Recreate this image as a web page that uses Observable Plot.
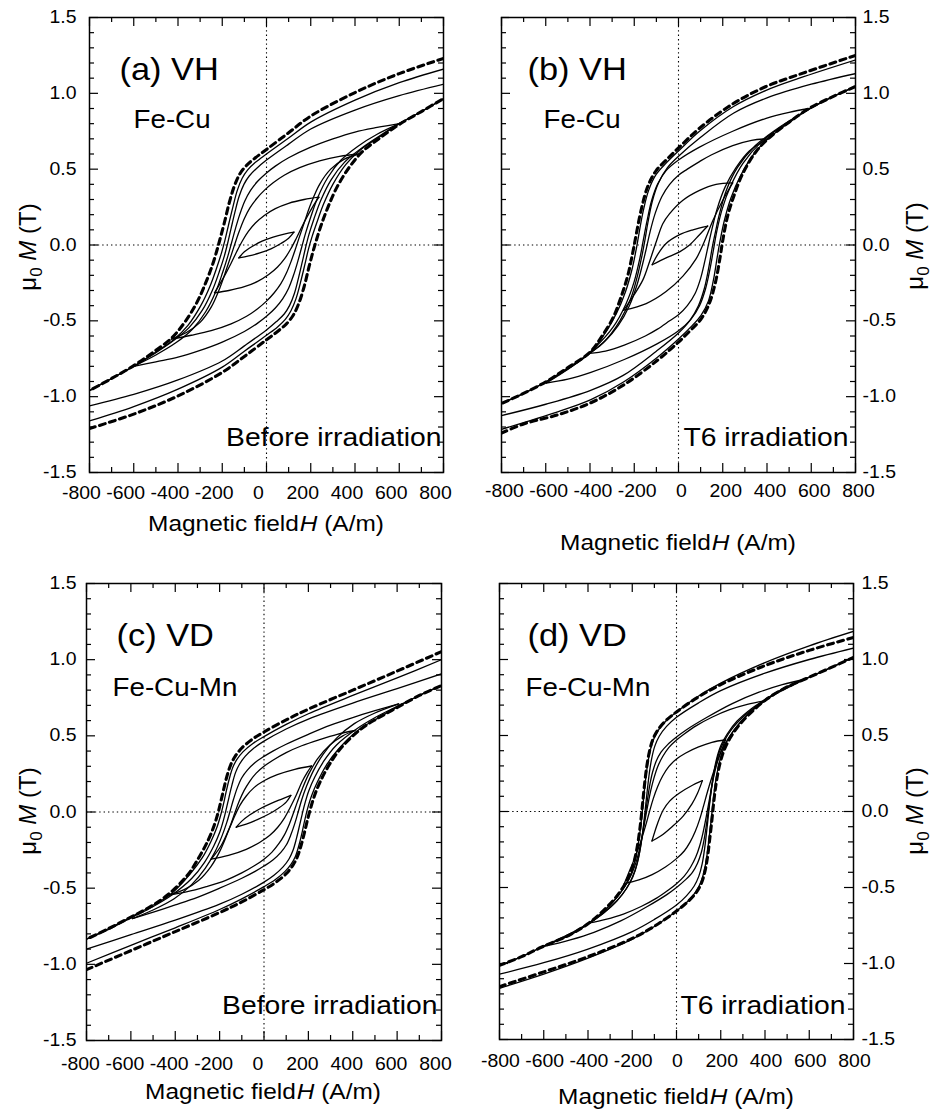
<!DOCTYPE html>
<html><head><meta charset="utf-8">
<script src="https://cdn.jsdelivr.net/npm/d3@7"></script>
<script src="https://cdn.jsdelivr.net/npm/@observablehq/plot@0.6"></script>
<style>
body{margin:0;background:#fff;}
#root{position:relative;width:935px;height:1110px;overflow:hidden;background:#fff;font-family:"Liberation Sans",Arial,sans-serif;}
</style></head><body><div id="root"></div>
<script>
// ---------- tick values / labels ----------
const xTicks = [-800,-600,-400,-200,0,200,400,600,800];
const xMinor = [-700,-500,-300,-100,100,300,500,700];
const yTicks = [-1.5,-1.0,-0.5,0.0,0.5,1.0,1.5];
const yMinor = [-1.4,-1.3,-1.2,-1.1,-0.9,-0.8,-0.7,-0.6,-0.4,-0.3,-0.2,-0.1,0.1,0.2,0.3,0.4,0.6,0.7,0.8,0.9,1.1,1.2,1.3,1.4];
const panelTags = ["(a) VH","(b) VH","(c) VD","(d) VD"];
const alloys = ["Fe-Cu","Fe-Cu","Fe-Cu-Mn","Fe-Cu-Mn"];
const states = ["Before irradiation","T6 irradiation","Before irradiation","T6 irradiation"];

// ---------- panel (a): [H (A/m), mu0M (T)] ----------
const a_D_desc = [[800,1.23],[600,1.13],[400,1.005],[200,0.85],[100,0.74],[0,0.63],[-50,0.575],[-90,0.525],[-120,0.47],[-145,0.39],[-168,0.28],[-190,0.15],[-208,0.05],[-223,-0.03],[-245,-0.135],[-275,-0.25],[-315,-0.38],[-370,-0.51],[-430,-0.615],[-510,-0.705],[-600,-0.795],[-700,-0.88],[-800,-0.96]];
const a_D_asc = [[-800,-1.21],[-600,-1.115],[-400,-0.995],[-200,-0.84],[-100,-0.735],[0,-0.625],[50,-0.57],[90,-0.52],[120,-0.465],[146,-0.385],[170,-0.275],[192,-0.145],[210,-0.045],[226,0.035],[248,0.135],[278,0.25],[318,0.38],[373,0.51],[433,0.615],[512,0.705],[600,0.795],[700,0.88],[800,0.965]];
const a_L1_desc = [[800,1.16],[600,1.07],[400,0.955],[200,0.81],[100,0.705],[0,0.60],[-50,0.545],[-85,0.495],[-110,0.44],[-132,0.36],[-152,0.25],[-172,0.13],[-188,0.03],[-203,-0.05],[-225,-0.15],[-255,-0.27],[-297,-0.40],[-355,-0.53],[-420,-0.625],[-505,-0.71],[-600,-0.798],[-700,-0.88],[-800,-0.96]];
const a_L1_asc = [[-800,-1.16],[-600,-1.065],[-400,-0.95],[-200,-0.805],[-100,-0.70],[0,-0.595],[50,-0.54],[85,-0.49],[110,-0.435],[133,-0.355],[154,-0.245],[174,-0.125],[190,-0.025],[206,0.055],[228,0.15],[258,0.27],[300,0.40],[358,0.53],[423,0.625],[508,0.71],[600,0.80],[700,0.88],[800,0.965]];
const a_L2_desc = [[800,1.06],[600,0.985],[400,0.89],[200,0.765],[100,0.665],[0,0.56],[-45,0.505],[-78,0.455],[-102,0.40],[-124,0.32],[-143,0.215],[-160,0.11],[-175,0.015],[-190,-0.07],[-212,-0.17],[-245,-0.30],[-290,-0.43],[-350,-0.545],[-420,-0.63],[-505,-0.715],[-600,-0.80],[-700,-0.88],[-800,-0.96]];
const a_L2_asc = [[-800,-1.06],[-600,-0.985],[-400,-0.89],[-200,-0.765],[-100,-0.665],[0,-0.56],[45,-0.505],[80,-0.455],[104,-0.40],[126,-0.32],[145,-0.215],[162,-0.11],[177,-0.015],[192,0.07],[214,0.17],[247,0.30],[292,0.43],[352,0.545],[422,0.63],[507,0.715],[600,0.80],[700,0.88],[800,0.965]];
const a_L3_desc = [[600,0.80],[500,0.775],[400,0.745],[300,0.70],[200,0.645],[100,0.575],[40,0.52],[0,0.475],[-40,0.42],[-72,0.36],[-98,0.29],[-120,0.205],[-140,0.11],[-157,0.02],[-175,-0.075],[-198,-0.18],[-230,-0.31],[-275,-0.44],[-335,-0.555],[-410,-0.645],[-500,-0.725],[-600,-0.80]];
const a_L3_asc = [[-600,-0.80],[-500,-0.77],[-400,-0.74],[-300,-0.695],[-200,-0.64],[-100,-0.57],[-40,-0.515],[0,-0.47],[40,-0.415],[73,-0.355],[100,-0.285],[122,-0.20],[142,-0.105],[159,-0.015],[177,0.08],[200,0.185],[232,0.315],[277,0.445],[337,0.56],[412,0.65],[500,0.73],[600,0.80]];
const a_L4_desc = [[420,0.60],[330,0.585],[240,0.555],[150,0.51],[80,0.46],[30,0.41],[-10,0.36],[-45,0.305],[-75,0.245],[-100,0.175],[-122,0.095],[-140,0.02],[-158,-0.06],[-180,-0.155],[-210,-0.28],[-250,-0.41],[-300,-0.51],[-360,-0.575],[-430,-0.62]];
const a_L4_asc = [[-430,-0.62],[-340,-0.595],[-250,-0.565],[-160,-0.52],[-90,-0.47],[-40,-0.42],[0,-0.37],[35,-0.315],[65,-0.255],[90,-0.185],[112,-0.105],[130,-0.03],[148,0.05],[170,0.145],[200,0.27],[240,0.40],[290,0.50],[350,0.565],[420,0.60]];
const a_L5_desc = [[237,0.315],[170,0.30],[100,0.275],[40,0.24],[-10,0.195],[-50,0.145],[-82,0.09],[-110,0.025],[-135,-0.045],[-160,-0.12],[-185,-0.19],[-210,-0.255],[-235,-0.315]];
const a_L5_asc = [[-235,-0.315],[-170,-0.30],[-100,-0.275],[-40,-0.24],[10,-0.195],[50,-0.145],[82,-0.09],[110,-0.025],[135,0.045],[160,0.12],[185,0.19],[210,0.255],[237,0.315]];
const a_L6_desc = [[124,0.085],[80,0.072],[30,0.052],[-20,0.025],[-65,-0.01],[-100,-0.045],[-125,-0.085]];
const a_L6_asc = [[-125,-0.085],[-80,-0.072],[-30,-0.052],[20,-0.025],[65,0.01],[100,0.045],[124,0.085]];

// ---------- panel (b) ----------
const b_D_desc = [[800,1.25],[546,1.125],[396,1.045],[245,0.93],[95,0.77],[0,0.64],[-56,0.56],[-101,0.49],[-138,0.39],[-169,0.23],[-191,0.07],[-206,-0.045],[-229,-0.20],[-259,-0.34],[-296,-0.48],[-357,-0.625],[-402,-0.71],[-507,-0.815],[-597,-0.90],[-703,-0.98],[-800,-1.045]];
const b_D_asc = [[-800,-1.24],[-700,-1.18],[-546,-1.12],[-396,-1.04],[-245,-0.92],[-95,-0.76],[0,-0.64],[56,-0.56],[101,-0.49],[138,-0.39],[168,-0.24],[188,-0.08],[200,0.03],[222,0.19],[252,0.33],[290,0.47],[350,0.615],[405,0.70],[500,0.81],[590,0.90],[700,0.98],[800,1.045]];
const b_L1_desc = [[800,1.22],[546,1.10],[396,1.02],[245,0.91],[95,0.75],[0,0.62],[-56,0.54],[-101,0.465],[-135,0.36],[-160,0.22],[-178,0.08],[-190,-0.02],[-210,-0.16],[-240,-0.31],[-280,-0.45],[-345,-0.61],[-402,-0.71],[-505,-0.815],[-597,-0.90],[-703,-0.98],[-800,-1.045]];
const b_L1_asc = [[-800,-1.215],[-546,-1.10],[-396,-1.02],[-245,-0.90],[-95,-0.74],[0,-0.62],[56,-0.54],[101,-0.465],[135,-0.37],[158,-0.23],[175,-0.08],[187,0.02],[207,0.16],[237,0.31],[278,0.45],[343,0.605],[405,0.70],[503,0.81],[595,0.90],[700,0.98],[800,1.045]];
const b_L2_desc = [[800,1.13],[600,1.06],[400,0.97],[250,0.87],[100,0.71],[0,0.585],[-50,0.51],[-90,0.41],[-118,0.29],[-138,0.15],[-152,0.03],[-165,-0.07],[-185,-0.20],[-215,-0.35],[-265,-0.50],[-340,-0.645],[-402,-0.715],[-440,-0.76],[-560,-0.87],[-680,-0.965],[-800,-1.045]];
const b_L2_asc = [[-800,-1.125],[-600,-1.05],[-400,-0.96],[-250,-0.86],[-100,-0.70],[0,-0.58],[50,-0.50],[90,-0.40],[118,-0.28],[138,-0.14],[152,-0.02],[166,0.08],[186,0.21],[216,0.36],[266,0.51],[340,0.645],[440,0.76],[560,0.87],[680,0.965],[800,1.045]];
const b_L3_desc = [[591,0.90],[500,0.875],[396,0.835],[245,0.75],[95,0.645],[0,0.56],[-56,0.49],[-95,0.40],[-122,0.29],[-142,0.16],[-158,0.04],[-175,-0.09],[-200,-0.24],[-238,-0.39],[-295,-0.54],[-380,-0.68],[-480,-0.80],[-597,-0.91]];
const b_L3_asc = [[-597,-0.91],[-500,-0.885],[-396,-0.84],[-245,-0.755],[-95,-0.65],[0,-0.565],[56,-0.49],[95,-0.40],[122,-0.29],[142,-0.16],[157,-0.04],[173,0.09],[198,0.24],[236,0.39],[292,0.54],[375,0.68],[475,0.79],[591,0.90]];
const b_L4_desc = [[403,0.70],[330,0.69],[245,0.655],[150,0.595],[95,0.55],[40,0.50],[0,0.46],[-40,0.40],[-75,0.32],[-105,0.21],[-128,0.09],[-145,-0.02],[-163,-0.13],[-187,-0.26],[-222,-0.40],[-272,-0.53],[-330,-0.63],[-402,-0.715]];
const b_L4_asc = [[-402,-0.715],[-330,-0.70],[-245,-0.66],[-150,-0.60],[-95,-0.555],[-40,-0.50],[0,-0.46],[40,-0.40],[75,-0.32],[100,-0.22],[120,-0.10],[135,0.0],[152,0.11],[175,0.24],[210,0.38],[260,0.51],[320,0.62],[403,0.70]];
const b_L5_desc = [[245,0.41],[170,0.40],[95,0.36],[20,0.295],[-41,0.205],[-71,0.14],[-101,0.02],[-131,-0.11],[-161,-0.23],[-206,-0.34],[-248,-0.43]];
const b_L5_asc = [[-248,-0.43],[-146,-0.386],[-56,-0.307],[20,-0.205],[80,-0.09],[117,0.023],[155,0.16],[200,0.295],[245,0.41]];
const b_L6_desc = [[132,0.125],[65,0.10],[5,0.068],[-56,0.01],[-93,-0.06],[-119,-0.13]];
const b_L6_asc = [[-119,-0.13],[-56,-0.085],[5,-0.045],[50,0.0],[95,0.068],[132,0.125]];

// ---------- panel (c) ----------
const c_D_desc = [[800,1.053],[600,0.925],[400,0.80],[200,0.675],[100,0.605],[0,0.525],[-50,0.48],[-100,0.42],[-130,0.365],[-150,0.31],[-168,0.23],[-183,0.14],[-196,0.06],[-208,-0.01],[-225,-0.09],[-250,-0.18],[-290,-0.29],[-345,-0.415],[-435,-0.545],[-510,-0.62],[-600,-0.69],[-700,-0.765],[-800,-0.835]];
const c_D_asc = [[-800,-1.035],[-600,-0.91],[-400,-0.785],[-200,-0.66],[-100,-0.59],[0,-0.51],[50,-0.465],[100,-0.405],[130,-0.35],[150,-0.295],[168,-0.215],[184,-0.125],[197,-0.045],[210,0.025],[227,0.105],[252,0.195],[292,0.305],[347,0.42],[437,0.545],[512,0.615],[605,0.69],[700,0.765],[800,0.83]];
const c_L1_desc = [[800,1.0],[600,0.88],[400,0.765],[200,0.645],[100,0.575],[0,0.495],[-50,0.45],[-95,0.395],[-122,0.345],[-140,0.295],[-157,0.215],[-171,0.13],[-183,0.05],[-195,-0.02],[-212,-0.10],[-238,-0.19],[-278,-0.30],[-335,-0.41],[-425,-0.545],[-510,-0.62],[-600,-0.69],[-700,-0.765],[-800,-0.835]];
const c_L1_asc = [[-800,-0.993],[-600,-0.875],[-400,-0.76],[-200,-0.64],[-100,-0.57],[0,-0.49],[50,-0.445],[95,-0.39],[123,-0.34],[142,-0.29],[159,-0.21],[173,-0.125],[185,-0.045],[197,0.025],[214,0.105],[240,0.195],[280,0.305],[337,0.415],[427,0.54],[512,0.615],[602,0.69],[700,0.765],[800,0.83]];
const c_L2_desc = [[800,0.907],[600,0.81],[400,0.715],[200,0.61],[100,0.545],[0,0.465],[-45,0.42],[-85,0.365],[-110,0.315],[-128,0.26],[-144,0.18],[-158,0.095],[-170,0.02],[-183,-0.055],[-200,-0.135],[-227,-0.225],[-268,-0.33],[-325,-0.435],[-415,-0.545],[-505,-0.625],[-600,-0.695],[-700,-0.77],[-800,-0.835]];
const c_L2_asc = [[-800,-0.90],[-600,-0.805],[-400,-0.71],[-200,-0.605],[-100,-0.54],[0,-0.46],[45,-0.415],[86,-0.36],[112,-0.31],[130,-0.255],[146,-0.175],[160,-0.09],[172,-0.015],[185,0.06],[202,0.14],[229,0.23],[270,0.335],[327,0.44],[417,0.545],[507,0.625],[602,0.695],[700,0.765],[800,0.83]];
const c_L3_desc = [[607,0.71],[500,0.665],[400,0.62],[300,0.57],[200,0.51],[100,0.445],[40,0.40],[0,0.365],[-40,0.325],[-75,0.275],[-100,0.225],[-120,0.16],[-137,0.085],[-152,0.01],[-168,-0.07],[-190,-0.16],[-222,-0.265],[-265,-0.37],[-325,-0.475],[-405,-0.57],[-495,-0.64],[-593,-0.70]];
const c_L3_asc = [[-593,-0.70],[-495,-0.655],[-400,-0.61],[-300,-0.56],[-200,-0.50],[-100,-0.435],[-40,-0.39],[0,-0.355],[40,-0.315],[76,-0.265],[101,-0.215],[121,-0.15],[139,-0.075],[154,0.0],[170,0.08],[192,0.17],[224,0.275],[267,0.38],[327,0.485],[407,0.58],[500,0.65],[607,0.71]];
const c_L4_desc = [[410,0.535],[330,0.51],[250,0.475],[170,0.435],[100,0.39],[40,0.34],[0,0.30],[-35,0.255],[-65,0.20],[-90,0.14],[-112,0.07],[-130,0.0],[-148,-0.075],[-170,-0.16],[-200,-0.26],[-240,-0.36],[-295,-0.45],[-360,-0.51],[-435,-0.547]];
const c_L4_asc = [[-435,-0.547],[-350,-0.525],[-260,-0.49],[-175,-0.45],[-100,-0.40],[-40,-0.35],[0,-0.31],[35,-0.265],[66,-0.21],[92,-0.15],[114,-0.08],[132,-0.01],[150,0.065],[172,0.15],[202,0.25],[242,0.35],[297,0.44],[355,0.50],[410,0.535]];
const c_L5_desc = [[214,0.302],[139,0.28],[60,0.245],[0,0.205],[-45,0.16],[-80,0.105],[-108,0.045],[-133,-0.03],[-160,-0.12],[-195,-0.225],[-238,-0.31]];
const c_L5_asc = [[-238,-0.31],[-160,-0.285],[-80,-0.245],[-20,-0.20],[25,-0.155],[62,-0.10],[92,-0.04],[118,0.03],[145,0.11],[172,0.20],[195,0.26],[214,0.302]];
const c_L6_desc = [[121,0.109],[80,0.085],[30,0.055],[-20,0.02],[-65,-0.02],[-100,-0.06],[-125,-0.10]];
const c_L6_asc = [[-125,-0.10],[-80,-0.08],[-30,-0.05],[20,-0.015],[65,0.025],[100,0.065],[121,0.109]];

// ---------- panel (d) ----------
const d_D_desc = [[800,1.145],[600,1.06],[400,0.96],[200,0.835],[100,0.755],[0,0.655],[-50,0.595],[-85,0.535],[-108,0.47],[-123,0.39],[-135,0.29],[-145,0.17],[-152,0.07],[-159,-0.03],[-166,-0.12],[-176,-0.22],[-190,-0.32],[-210,-0.41],[-236,-0.485],[-280,-0.575],[-340,-0.665],[-397,-0.735],[-480,-0.81],[-611,-0.893],[-700,-0.955],[-800,-1.012]];
const d_D_asc = [[-800,-1.152],[-600,-1.055],[-400,-0.955],[-200,-0.835],[-100,-0.755],[0,-0.655],[50,-0.595],[88,-0.535],[113,-0.47],[129,-0.39],[141,-0.29],[151,-0.17],[159,-0.07],[166,0.03],[173,0.12],[183,0.22],[197,0.32],[217,0.41],[243,0.485],[287,0.575],[347,0.665],[404,0.735],[487,0.81],[590,0.877],[700,0.948],[800,1.014]];
const d_L1_desc = [[800,1.185],[600,1.09],[400,0.98],[200,0.845],[100,0.76],[0,0.655],[-50,0.592],[-84,0.53],[-106,0.465],[-121,0.385],[-133,0.285],[-143,0.165],[-150,0.065],[-157,-0.035],[-164,-0.125],[-174,-0.225],[-188,-0.325],[-207,-0.415],[-233,-0.49],[-277,-0.578],[-338,-0.667],[-397,-0.737],[-480,-0.812],[-611,-0.893],[-700,-0.955],[-800,-1.012]];
const d_L1_asc = [[-800,-1.163],[-600,-1.07],[-400,-0.965],[-200,-0.84],[-100,-0.757],[0,-0.655],[50,-0.592],[86,-0.53],[110,-0.465],[126,-0.385],[138,-0.285],[148,-0.165],[156,-0.065],[163,0.035],[170,0.125],[180,0.225],[194,0.325],[213,0.415],[239,0.49],[283,0.578],[344,0.667],[404,0.737],[487,0.812],[590,0.877],[700,0.948],[800,1.014]];
const d_L2_desc = [[800,1.075],[600,1.0],[400,0.91],[200,0.795],[100,0.715],[0,0.62],[-45,0.56],[-78,0.495],[-98,0.43],[-112,0.35],[-123,0.25],[-132,0.14],[-139,0.045],[-146,-0.05],[-153,-0.14],[-163,-0.24],[-177,-0.34],[-197,-0.43],[-225,-0.505],[-270,-0.59],[-333,-0.672],[-397,-0.738],[-480,-0.812],[-611,-0.893],[-700,-0.955],[-800,-1.012]];
const d_L2_asc = [[-800,-1.07],[-600,-0.995],[-400,-0.905],[-200,-0.79],[-100,-0.71],[0,-0.615],[45,-0.555],[80,-0.49],[101,-0.425],[116,-0.345],[127,-0.245],[136,-0.135],[143,-0.04],[150,0.055],[157,0.145],[167,0.245],[181,0.345],[201,0.435],[229,0.51],[274,0.595],[337,0.675],[404,0.74],[487,0.812],[590,0.877],[700,0.948],[800,1.014]];
const d_L3_desc = [[583,0.87],[478,0.835],[373,0.785],[252,0.71],[132,0.615],[42,0.535],[0,0.49],[-40,0.44],[-70,0.39],[-92,0.33],[-108,0.26],[-120,0.18],[-130,0.09],[-138,0.01],[-147,-0.08],[-157,-0.18],[-170,-0.29],[-188,-0.39],[-212,-0.47],[-245,-0.545],[-295,-0.625],[-360,-0.70],[-450,-0.78],[-540,-0.845],[-611,-0.893]];
const d_L3_asc = [[-611,-0.893],[-480,-0.845],[-373,-0.795],[-252,-0.72],[-132,-0.625],[-42,-0.545],[0,-0.50],[40,-0.45],[72,-0.40],[95,-0.34],[112,-0.27],[124,-0.19],[134,-0.10],[142,-0.015],[151,0.075],[161,0.175],[174,0.285],[192,0.385],[216,0.465],[249,0.54],[299,0.62],[364,0.695],[450,0.775],[525,0.83],[583,0.87]];
const d_L4_desc = [[403,0.73],[320,0.705],[240,0.67],[160,0.62],[90,0.565],[35,0.51],[0,0.47],[-35,0.42],[-63,0.36],[-85,0.295],[-102,0.22],[-116,0.14],[-128,0.055],[-139,-0.03],[-150,-0.12],[-163,-0.22],[-180,-0.32],[-202,-0.41],[-232,-0.49],[-275,-0.575],[-330,-0.66],[-397,-0.735]];
const d_L4_asc = [[-397,-0.735],[-320,-0.71],[-240,-0.675],[-160,-0.625],[-90,-0.57],[-35,-0.515],[0,-0.475],[35,-0.425],[64,-0.365],[87,-0.30],[105,-0.225],[119,-0.145],[131,-0.06],[142,0.025],[153,0.115],[166,0.215],[183,0.315],[205,0.405],[236,0.485],[279,0.57],[334,0.655],[403,0.73]];
const d_L5_desc = [[222,0.472],[160,0.455],[100,0.425],[42,0.385],[0,0.345],[-35,0.295],[-62,0.235],[-85,0.165],[-105,0.085],[-122,0.0],[-140,-0.095],[-162,-0.20],[-190,-0.31],[-215,-0.40],[-236,-0.474]];
const d_L5_asc = [[-236,-0.474],[-170,-0.45],[-110,-0.415],[-50,-0.365],[0,-0.31],[35,-0.26],[62,-0.20],[85,-0.13],[105,-0.05],[122,0.035],[140,0.13],[162,0.235],[185,0.335],[205,0.41],[222,0.472]];
const d_L6_desc = [[117,0.203],[72,0.173],[12,0.12],[-30,0.07],[-60,0.01],[-86,-0.08],[-111,-0.194]];
const d_L6_asc = [[-111,-0.194],[-70,-0.16],[-20,-0.10],[30,-0.03],[70,0.05],[95,0.12],[117,0.203]];

// ---------- assemble ----------
const loops = {
  a: [[a_L1_desc,a_L1_asc,false],[a_L2_desc,a_L2_asc,false],[a_L3_desc,a_L3_asc,false],[a_L4_desc,a_L4_asc,false],[a_L5_desc,a_L5_asc,false],[a_L6_desc,a_L6_asc,false],[a_D_desc,a_D_asc,true]],
  b: [[b_L1_desc,b_L1_asc,false],[b_L2_desc,b_L2_asc,false],[b_L3_desc,b_L3_asc,false],[b_L4_desc,b_L4_asc,false],[b_L5_desc,b_L5_asc,false],[b_L6_desc,b_L6_asc,false],[b_D_desc,b_D_asc,true]],
  c: [[c_L1_desc,c_L1_asc,false],[c_L2_desc,c_L2_asc,false],[c_L3_desc,c_L3_asc,false],[c_L4_desc,c_L4_asc,false],[c_L5_desc,c_L5_asc,false],[c_L6_desc,c_L6_asc,false],[c_D_desc,c_D_asc,true]],
  d: [[d_L1_desc,d_L1_asc,false],[d_L2_desc,d_L2_asc,false],[d_L3_desc,d_L3_asc,false],[d_L4_desc,d_L4_asc,false],[d_L5_desc,d_L5_asc,false],[d_L6_desc,d_L6_asc,false],[d_D_desc,d_D_asc,true]]
};

const layout = [
  {key:"a", left:0,   top:0,   width:470, height:555, mL:89, mR:27, mT:17, mB:83, yAnchor:"left",  yPad:13, xPad:14, xDx:-8, tagDx:30, alloyDx:44, alloyDy:93, stateDx:-2, stateDy:-27},
  {key:"b", left:470, top:0,   width:465, height:555, mL:31, mR:80, mT:17, mB:83, yAnchor:"right", yPad:7,  xPad:12, xDx:3,  tagDx:26, alloyDx:42, alloyDy:93, stateDx:-7, stateDy:-27},
  {key:"c", left:0,   top:555, width:470, height:555, mL:86, mR:29, mT:28, mB:70, yAnchor:"left",  yPad:10, xPad:17, xDx:-6, tagDx:30, alloyDx:26, alloyDy:95, stateDx:-4, stateDy:-27},
  {key:"d", left:470, top:555, width:465, height:555, mL:29, mR:82, mT:28, mB:71, yAnchor:"right", yPad:8,  xPad:15, xDx:1,  tagDx:28, alloyDx:26, alloyDy:95, stateDx:-8, stateDy:-26}
];

const STRETCH = 1.11;
function stretchTexts(svg) {
  svg.querySelectorAll("text").forEach(t => {
    const x = parseFloat(t.getAttribute("x")) || 0, y = parseFloat(t.getAttribute("y")) || 0;
    const tr = t.getAttribute("transform") || "";
    t.setAttribute("transform", `${tr} translate(${x},${y}) scale(${STRETCH},1) translate(${-x},${-y})`);
  });
}

const root = document.getElementById("root");
layout.forEach((cfg, i) => {
  const innerW = cfg.width - cfg.mL - cfg.mR, innerH = cfg.height - cfg.mT - cfg.mB;
  const MAJ = 9, MIN = 5;
  const marks = [
    Plot.ruleY([0], {strokeDasharray: "1.4,3", strokeWidth: 1.1}),
    Plot.ruleX([0], {strokeDasharray: "1.4,3", strokeWidth: 1.1})
  ];
  for (const [desc, asc, dashed] of loops[cfg.key]) {
    for (const br of [desc, asc]) {
      marks.push(Plot.line(br, {x: d => d[0], y: d => d[1], curve: "catmull-rom", stroke: "black",
        strokeWidth: dashed ? 3.1 : 1.3, strokeDasharray: dashed ? "6,4.5" : null, clip: true}));
    }
  }
  marks.push(
    Plot.tickX(xTicks, {x: d => d, insetTop: innerH - MAJ, strokeWidth: 1.2}),
    Plot.tickX(xTicks, {x: d => d, insetBottom: innerH - MAJ, strokeWidth: 1.2}),
    Plot.tickX(xMinor, {x: d => d, insetTop: innerH - MIN, strokeWidth: 1.2}),
    Plot.tickX(xMinor, {x: d => d, insetBottom: innerH - MIN, strokeWidth: 1.2}),
    Plot.tickY(yTicks, {y: d => d, insetRight: innerW - MAJ, strokeWidth: 1.2}),
    Plot.tickY(yTicks, {y: d => d, insetLeft: innerW - MAJ, strokeWidth: 1.2}),
    Plot.tickY(yMinor, {y: d => d, insetRight: innerW - MIN, strokeWidth: 1.2}),
    Plot.tickY(yMinor, {y: d => d, insetLeft: innerW - MIN, strokeWidth: 1.2}),
    Plot.frame({stroke: "black", strokeWidth: 1.5}),
    Plot.axisX({anchor: "bottom", ticks: xTicks, tickSize: 0, tickPadding: cfg.xPad, tickFormat: d => String(d), fontSize: 17.5, dx: cfg.xDx, label: null}),
    Plot.axisY({anchor: cfg.yAnchor, ticks: yTicks, tickSize: 0, tickPadding: cfg.yPad, tickFormat: d => d.toFixed(1), fontSize: 17.5, label: null}),
    Plot.text([panelTags[i]], {text: d => d, frameAnchor: "top-left", textAnchor: "start", dx: cfg.tagDx, dy: 40.5, fontSize: 31}),
    Plot.text([alloys[i]], {text: d => d, frameAnchor: "top-left", textAnchor: "start", dx: cfg.alloyDx, dy: cfg.alloyDy, fontSize: 25}),
    Plot.text([states[i]], {text: d => d, frameAnchor: "bottom-right", textAnchor: "end", dx: cfg.stateDx, dy: cfg.stateDy, fontSize: 25.5})
  );
  const svg = Plot.plot({
    width: cfg.width, height: cfg.height,
    marginLeft: cfg.mL, marginRight: cfg.mR, marginTop: cfg.mT, marginBottom: cfg.mB,
    x: {domain: [-800, 800]}, y: {domain: [-1.5, 1.5]},
    style: {fontFamily: "'Liberation Sans', Arial, sans-serif", color: "black", background: "transparent", overflow: "visible"},
    marks
  });
  stretchTexts(svg);
  svg.style.position = "absolute";
  svg.style.left = cfg.left + "px";
  svg.style.top = cfg.top + "px";
  root.appendChild(svg);
});

// ---------- axis titles (overlay) ----------
const NS = "http://www.w3.org/2000/svg";
const ov = document.createElementNS(NS, "svg");
ov.setAttribute("width", 935); ov.setAttribute("height", 1110);
ov.style.cssText = "position:absolute;left:0;top:0;pointer-events:none;font-family:'Liberation Sans',Arial,sans-serif;";
const xTitlePos = [[266,531],[678,550],[263,1099],[676,1104]];
const yTitlePos = [[36,247],[923,246],[36,811],[923,811]];
let html = "";
xTitlePos.forEach(([x,y]) => {
  html += `<text transform="translate(${x},${y}) scale(${STRETCH},1)" text-anchor="middle" font-size="22" fill="black">Magnetic field<tspan font-style="italic" dx="1">H</tspan> (A/m)</text>`;
});
yTitlePos.forEach(([x,y]) => {
  html += `<text transform="translate(${x},${y}) rotate(-90)" text-anchor="middle" font-size="24" fill="black">μ<tspan font-size="17" dy="6">0</tspan><tspan dy="-6" font-style="italic"> M</tspan> (T)</text>`;
});
ov.innerHTML = html;
root.appendChild(ov);
</script></body></html>
